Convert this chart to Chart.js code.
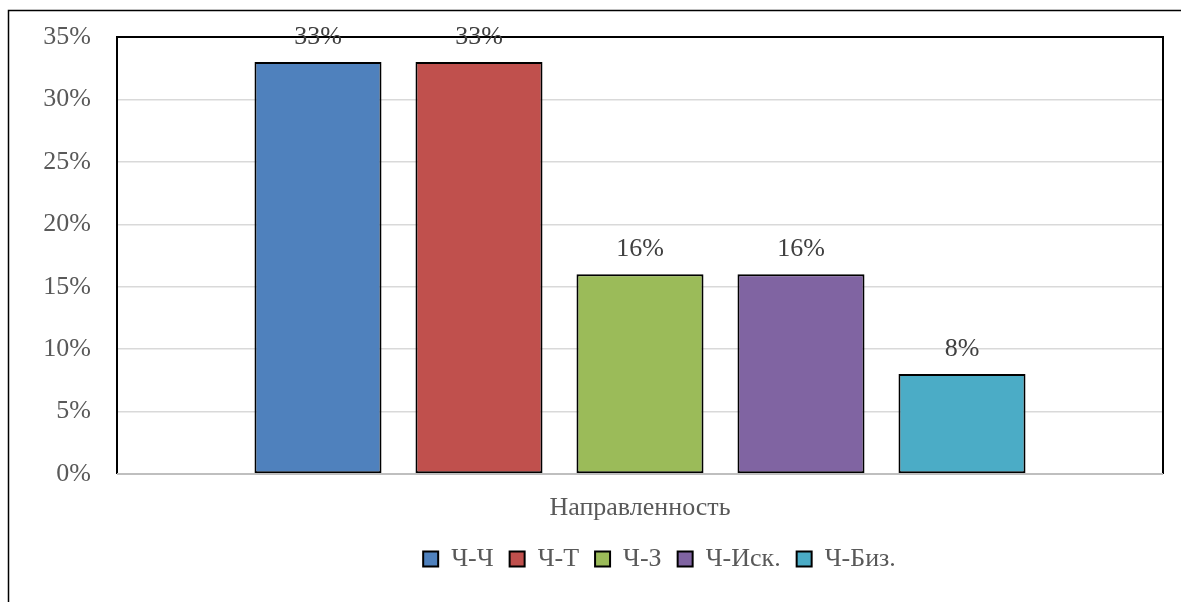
<!DOCTYPE html>
<html>
<head>
<meta charset="utf-8">
<script src="https://cdn.jsdelivr.net/npm/chart.js@4.4.1/dist/chart.umd.min.js"></script>
<style>
  html, body { margin: 0; padding: 0; background: #fff; overflow: hidden; }
  #wrap { width: 1181px; height: 602px; }
</style>
</head>
<body>
<div id="wrap"><canvas id="c" width="1181" height="602"></canvas></div>
<script>
const categories = ["Направленность"];
const seriesNames = ["Ч-Ч", "Ч-Т", "Ч-З", "Ч-Иск.", "Ч-Биз."];
const seriesValues = [33, 33, 16, 16, 8];
const seriesColors = ["#4F81BD", "#C0504D", "#9BBB59", "#8064A2", "#4BACC6"];
const yTicks = [0, 5, 10, 15, 20, 25, 30, 35];

const FONT = "'Liberation Serif', 'Times New Roman', serif";
const FS = 26;

const datasets = seriesNames.map((name, i) => ({
  label: name,
  data: [seriesValues[i]],
  backgroundColor: seriesColors[i],
  borderColor: "#000000",
  borderWidth: 2,
  borderSkipped: false,
  categoryPercentage: 0.7696,
  barPercentage: 0.789
}));

const framePlugin = {
  id: "frame",
  afterLayout(chart) {
    // shift the legend block to the right, as in the reference
    const lg = chart.legend;
    if (lg) { lg.left += 78; lg.right += 78; }
  },
  beforeDraw(chart) {
    const ctx = chart.ctx;
    ctx.save();
    ctx.fillStyle = "#ffffff";
    ctx.fillRect(0, 0, chart.width, chart.height);
    ctx.strokeStyle = "#000000";
    ctx.lineWidth = 1.5;
    ctx.beginPath();
    ctx.moveTo(8.5, chart.height + 5);
    ctx.lineTo(8.5, 10.5);
    ctx.lineTo(chart.width + 5, 10.5);
    ctx.stroke();
    ctx.restore();
  },
  afterDatasetsDraw(chart) {
    const ctx = chart.ctx;
    const a = chart.chartArea;
    ctx.save();
    ctx.strokeStyle = "#000000";
    ctx.lineWidth = 2;
    ctx.beginPath();
    ctx.moveTo(a.left, a.bottom);
    ctx.lineTo(a.left, a.top);
    ctx.lineTo(a.right, a.top);
    ctx.lineTo(a.right, a.bottom);
    ctx.stroke();
    ctx.strokeStyle = "#bfbfbf";
    ctx.beginPath();
    ctx.moveTo(a.left, a.bottom);
    ctx.lineTo(a.right, a.bottom);
    ctx.stroke();
    // value labels
    ctx.fillStyle = "#404040";
    ctx.font = FS + "px " + FONT;
    ctx.textAlign = "center";
    ctx.textBaseline = "middle";
    chart.data.datasets.forEach((ds, i) => {
      const meta = chart.getDatasetMeta(i);
      meta.data.forEach((el, j) => {
        ctx.fillText(ds.data[j] + "%", el.x, el.y - 25);
      });
    });
    ctx.restore();
  }
};

new Chart(document.getElementById("c"), {
  type: "bar",
  data: { labels: categories, datasets: datasets },
  options: {
    responsive: false,
    animation: false,
    devicePixelRatio: 1,
    layout: { padding: { top: 37, right: 18, left: 0, bottom: 20 } },
    plugins: {
      legend: {
        position: "bottom",
        labels: {
          font: { family: FONT, size: FS },
          color: "#595959",
          boxWidth: 15,
          boxHeight: 15,
          padding: 16
        }
      },
      tooltip: { enabled: false }
    },
    scales: {
      x: {
        grid: { display: false, drawTicks: false },
        border: { display: false },
        ticks: { font: { family: FONT, size: FS }, color: "#595959", padding: 19 },
        afterFit(scale) { scale.height = 56; }
      },
      y: {
        min: 0,
        max: 35,
        afterBuildTicks(scale) { scale.ticks = yTicks.map(v => ({ value: v })); },
        grid: { color: "#d9d9d9", lineWidth: 1.5, drawTicks: true, tickLength: 26, tickColor: "rgba(0,0,0,0)" },
        border: { display: false },
        ticks: {
          font: { family: FONT, size: FS },
          color: "#595959",
          padding: 0,
          callback: v => v + "%"
        },
        afterFit(scale) { scale.width = 117; }
      }
    }
  },
  plugins: [framePlugin]
});
</script>
</body>
</html>
